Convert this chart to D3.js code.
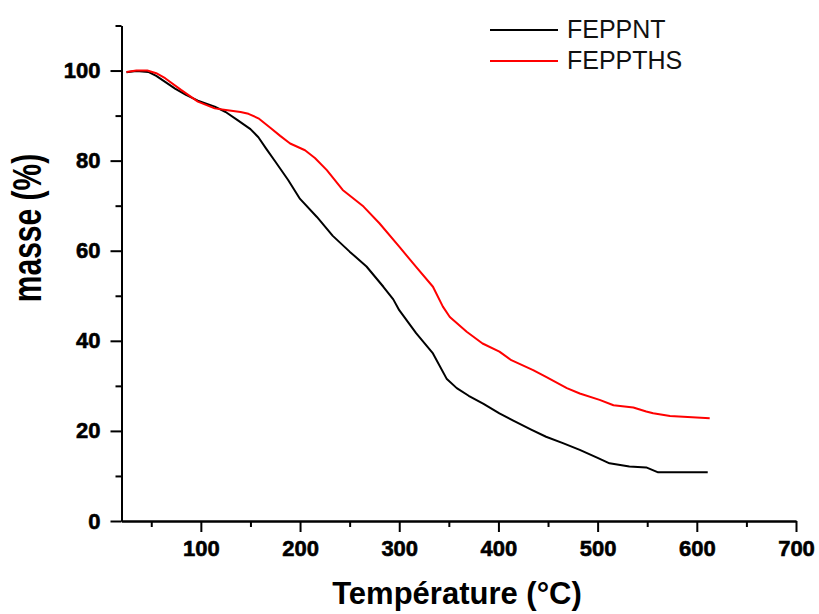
<!DOCTYPE html>
<html lang="fr">
<head>
<meta charset="UTF-8">
<title>ATG FEPPNT / FEPPTHS</title>
<script src="https://d3js.org/d3.v7.min.js"></script>
<style>
    body { margin: 0; background: #fff; }
    svg { display: block; }
    .axis path, .axis line { stroke: #000; stroke-width: 2; }
    .axis text { font-family: "Liberation Sans", Arial, sans-serif; font-weight: bold; font-size: 22px; fill: #000; stroke: #000; stroke-width: 0.6px; }
    .title { font-family: "Liberation Sans", Arial, sans-serif; font-weight: bold; fill: #000; }
    .legend text { font-family: "Liberation Sans", Arial, sans-serif; font-size: 25px; fill: #111; }
</style>
</head>
<body>
<div id="chart"></div>
<script>
// Temperature (°C) and remaining mass (%)
const tempNT = [25, 35, 47, 55, 64, 74, 85, 97, 114, 125, 137, 150, 158, 166, 175, 188, 200, 217, 233, 250,
    267, 284, 294, 300, 317, 334, 348, 358, 370, 385, 401, 415, 433, 448, 465, 482, 500, 512, 532, 549, 561, 611];
const masseNT = [99.6, 99.9, 99.7, 98.8, 97.5, 96, 94.6, 93.3, 92, 90.8, 89, 87, 85.2, 82.6, 79.8, 75.7, 71.5, 67.5, 63.3, 59.8,
    56.5, 52, 49.2, 46.8, 41.7, 37.2, 31.5, 29.5, 27.8, 26, 23.9, 22.3, 20.3, 18.7, 17.3, 15.8, 14, 12.8, 12.1, 11.9, 10.8, 10.8];

const tempTHS = [25, 35, 46, 55, 64, 80, 97, 114, 127, 140, 148, 158, 170, 180, 190, 205, 215, 227, 243, 264,
    280, 300, 317, 334, 344, 351, 368, 384, 401, 413, 435, 448, 469, 482, 502, 516, 536, 549, 556, 573, 613];
const masseTHS = [99.7, 100, 100, 99.4, 98.3, 95.7, 93.1, 91.6, 91.2, 90.8, 90.4, 89.4, 87.3, 85.5, 83.8, 82.3, 80.6, 77.9, 73.5, 69.8,
    66.1, 60.9, 56.4, 52, 47.6, 45.3, 42, 39.4, 37.6, 35.7, 33.5, 32, 29.5, 28.3, 26.9, 25.7, 25.2, 24.3, 23.9, 23.3, 22.8];

const seriesNames = ["FEPPNT", "FEPPTHS"];
const seriesColors = ["#000000", "#ff0000"];

const xMajor = [100, 200, 300, 400, 500, 600, 700];
const xMinor = [50, 150, 250, 350, 450, 550, 650];
const yMajor = [0, 20, 40, 60, 80, 100];
const yMinor = [10, 30, 50, 70, 90, 110];

const width = 819, height = 614;

const svg = d3.select("#chart").append("svg")
    .attr("width", width)
    .attr("height", height);

const x = d3.scaleLinear().domain([20, 700]).range([121.5, 796]);
const y = d3.scaleLinear().domain([0, 110]).range([521, 25.5]);

// axes: major ticks with labels, minor ticks without
svg.append("g").attr("class", "axis")
    .attr("transform", `translate(0,${y(0)})`)
    .call(d3.axisBottom(x).tickValues(xMajor).tickSize(11).tickPadding(8).tickSizeOuter(0));
svg.append("g").attr("class", "axis")
    .attr("transform", `translate(0,${y(0)})`)
    .call(d3.axisBottom(x).tickValues(xMinor).tickSize(6).tickFormat("").tickSizeOuter(0));

svg.append("g").attr("class", "axis")
    .attr("transform", `translate(${x(20)},0)`)
    .call(d3.axisLeft(y).tickValues(yMajor).tickSize(11).tickPadding(10).tickSizeOuter(0));
svg.append("g").attr("class", "axis")
    .attr("transform", `translate(${x(20)},0)`)
    .call(d3.axisLeft(y).tickValues(yMinor).tickSize(6).tickFormat("").tickSizeOuter(0));

// curves
const line = d3.line().x(d => x(d[0])).y(d => y(d[1]));
const curves = [d3.zip(tempNT, masseNT), d3.zip(tempTHS, masseTHS)];

svg.selectAll(".curve")
    .data(curves)
    .enter()
    .append("path")
    .attr("class", "curve")
    .attr("fill", "none")
    .attr("stroke", (d, i) => seriesColors[i])
    .attr("stroke-width", 2)
    .attr("stroke-linejoin", "round")
    .attr("d", line);

// legend
const legend = svg.append("g").attr("class", "legend");
seriesNames.forEach((name, i) => {
    const ly = 30 + i * 31;
    legend.append("line")
        .attr("x1", 490).attr("x2", 558)
        .attr("y1", ly).attr("y2", ly)
        .attr("stroke", seriesColors[i])
        .attr("stroke-width", 2);
    legend.append("text")
        .attr("x", 567)
        .attr("y", ly + 8)
        .text(name);
});

// axis titles
svg.append("text")
    .attr("class", "title")
    .attr("x", 457)
    .attr("y", 604)
    .attr("text-anchor", "middle")
    .style("font-size", "31px")
    .text("Température (°C)");

svg.append("text")
    .attr("class", "title")
    .attr("text-anchor", "middle")
    .attr("transform", "translate(41,228) rotate(-90) scale(1,1.35)")
    .style("font-size", "30px")
    .text("masse (%)");
</script>
</body>
</html>
